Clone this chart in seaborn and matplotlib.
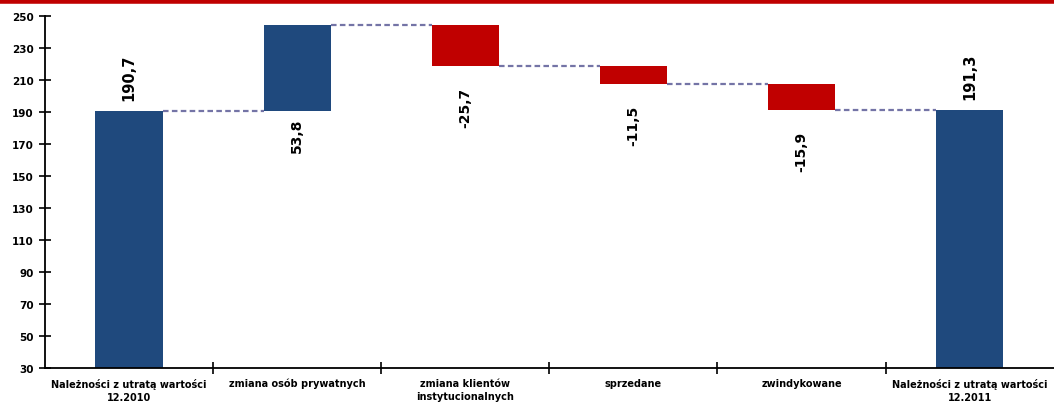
import numpy as np
import pandas as pd
import seaborn as sns
import matplotlib.pyplot as plt
from matplotlib.lines import Line2D

categories = ["Należności z utratą wartości\n12.2010", "zmiana osób prywatnych",
              "zmiana klientów\ninstytucionalnych", "sprzedane", "zwindykowane",
              "Należności z utratą wartości\n12.2011"]
values = [190.7, 53.8, -25.7, -11.5, -15.9, 191.3]
is_total = [True, False, False, False, False, True]
value_labels = ["190,7", "53,8", "-25,7", "-11,5", "-15,9", "191,3"]
y_ticks = [30, 50, 70, 90, 110, 130, 150, 170, 190, 210, 230, 250]

blue = "#1F497D"
red = "#C00000"

# waterfall: bottoms and heights
bottoms, heights, levels = [], [], []
run = 0.0
for v, tot in zip(values, is_total):
    if tot:
        bottoms.append(0.0)
        heights.append(v)
        run = v
    else:
        bottoms.append(min(run, run + v))
        heights.append(abs(v))
        run = run + v
    levels.append(run)

df = pd.DataFrame({"cat": categories, "height": heights, "bottom": bottoms})

sns.set_style("white")
plt.rcParams["font.family"] = ["DejaVu Sans"]
plt.rcParams["text.color"] = "black"

fig = plt.figure(figsize=(10.54, 4.06), dpi=100)
ax = fig.add_axes([0.0427, 0.0911, 0.957, 0.867])

sns.barplot(data=df, x="cat", y="height", bottom=df["bottom"].values, width=0.4,
            color=blue, ax=ax, errorbar=None)

for p, v, tot in zip(ax.patches, values, is_total):
    p.set_facecolor(blue if (tot or v > 0) else red)
    p.set_edgecolor("none")

# connectors
for i in range(len(values) - 1):
    ax.plot([i + 0.2, i + 0.8], [levels[i], levels[i]], ls=(0, (2.5, 1.5)),
            color="#7474A6", lw=1.6, zorder=1)

# value labels
for i, (v, tot) in enumerate(zip(values, is_total)):
    if tot:
        off, va, y0, fs = 8, "bottom", bottoms[i] + heights[i], 10.5
    elif v > 0:
        off, va, y0, fs = -5, "top", bottoms[i], 10
    else:
        off, va, y0, fs = -15, "top", bottoms[i], 10
    ax.annotate(value_labels[i], (i, y0), xytext=(0, off), textcoords="offset points",
                rotation=90, ha="center", va=va, fontsize=fs, fontweight="bold",
                color="black")

ax.set_ylim(30, 250)
ax.set_xlim(-0.5, 5.5)
ax.set_yticks(y_ticks)
ax.set_yticklabels([str(t) for t in y_ticks], fontsize=7.5, fontweight="bold", color="black")
ax.set_xticks(range(len(categories)))
ax.set_xticklabels(categories, fontsize=7, fontweight="bold", linespacing=1.45, color="black")
ax.set_xticks(np.arange(0.5, 5.0, 1.0), minor=True)
ax.tick_params(axis="x", which="major", length=0, pad=7, bottom=True)
ax.tick_params(axis="x", which="minor", length=8, direction="inout", width=1.2,
               bottom=True, color="black")
ax.tick_params(axis="y", length=8, direction="inout", width=1.2, pad=4, left=True,
               color="black")
ax.set_xlabel("")
ax.set_ylabel("")
for s in ["top", "right"]:
    ax.spines[s].set_visible(False)
for s in ["left", "bottom"]:
    ax.spines[s].set_linewidth(1.3)
    ax.spines[s].set_color("black")

fig.add_artist(Line2D([0, 1], [0.996, 0.996], transform=fig.transFigure,
                      color=red, lw=4))

fig.savefig("out.png", dpi=100)
